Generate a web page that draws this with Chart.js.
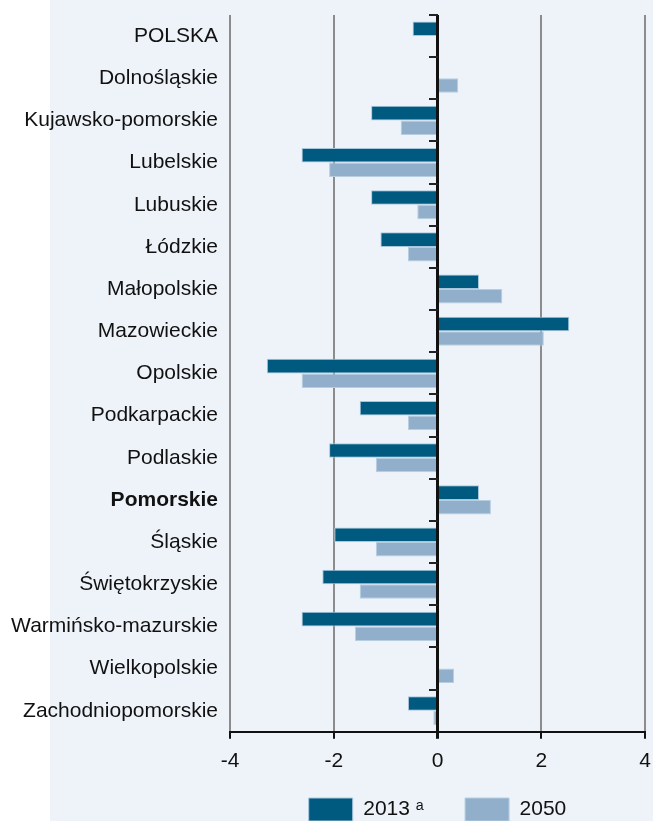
<!doctype html>
<html lang="pl">
<head>
  <meta charset="utf-8">
  <title>Województwa 2013 / 2050</title>
  <style>
    * { margin: 0; padding: 0; }
    body { background: #fff; }
    .chartBox { width: 653px; height: 821px; position: relative; }
  </style>
</head>
<body>
  <div class="chartBox">
    <canvas id="myChart"></canvas>
  </div>
  <script src="https://cdn.jsdelivr.net/npm/chart.js"></script>
  <script>
    // data
    const regions = ['POLSKA', 'Dolnośląskie', 'Kujawsko-pomorskie', 'Lubelskie', 'Lubuskie', 'Łódzkie',
      'Małopolskie', 'Mazowieckie', 'Opolskie', 'Podkarpackie', 'Podlaskie', 'Pomorskie', 'Śląskie',
      'Świętokrzyskie', 'Warmińsko-mazurskie', 'Wielkopolskie', 'Zachodniopomorskie'];
    const values2013 = [-0.48, null, -1.28, -2.62, -1.28, -1.10, 0.80, 2.54, -3.29, -1.50, -2.09, 0.80, -1.99, -2.22, -2.62, null, -0.57];
    const values2050 = [null, 0.40, -0.71, -2.09, -0.39, -0.57, 1.25, 2.05, -2.62, -0.57, -1.19, 1.03, -1.19, -1.50, -1.59, 0.32, -0.08];
    const xTicks = [-4, -2, 0, 2, 4];
    const boldRegion = 'Pomorskie';

    Chart.defaults.font.family = "'Liberation Sans', Arial, sans-serif";
    Chart.defaults.color = '#111';

    // light blue panel behind the chart
    const panel = {
      id: 'panel',
      beforeDraw(chart) {
        const c = chart.ctx;
        c.save();
        c.fillStyle = '#EEF3FA';
        c.fillRect(50, 0, chart.width - 50, chart.height);
        c.restore();
      }
    };

    const noPad = s => { s.paddingTop = 0; s.paddingBottom = 0; s.paddingLeft = 0; s.paddingRight = 0; };

    const data = {
      labels: regions,
      datasets: [{
          // trailing spaces widen the first legend item
          label: '2013 ᵃ   ',
          data: values2013,
          backgroundColor: '#005A80',
          borderColor: '#A9C6DD',
          borderWidth: 1,
          yAxisID: 'y'
        },
        {
          label: '2050',
          data: values2050,
          backgroundColor: '#91AFCA',
          borderColor: '#B7CEE1',
          borderWidth: 1,
          yAxisID: 'y'
        }
      ]
    };

    const config = {
      type: 'bar',
      data,
      plugins: [panel],
      options: {
        indexAxis: 'y',
        responsive: true,
        maintainAspectRatio: false,
        animation: false,
        layout: { padding: { top: 15, right: 8, left: 0, bottom: 0 } },
        datasets: { bar: { categoryPercentage: 0.69, barPercentage: 1.0 } },
        scales: {
          x: {
            min: -4,
            max: 4,
            afterBuildTicks: s => { s.ticks = xTicks.map(v => ({ value: v })); },
            // padding counts twice in the axis height; keep it once
            afterFit: s => { noPad(s); s.height -= 10; },
            grid: {
              color: c => c.tick && c.tick.value === 0 ? '#111' : '#8C8C8C',
              lineWidth: c => c.tick && c.tick.value === 0 ? 3 : 2,
              tickColor: '#111',
              tickLength: 7
            },
            border: { color: '#111', width: 2 },
            ticks: { font: { size: 21 }, padding: 10, color: '#111' }
          },
          y: {
            offset: true,
            afterFit: s => { noPad(s); s.width = 230; },
            grid: { display: false, drawTicks: false, offset: true },
            border: { display: false },
            ticks: {
              padding: 12,
              color: '#111',
              font: c => ({ size: 21, weight: regions[c.index] === boldRegion ? 'bold' : 'normal' })
            }
          },
          // tick marks along the zero line
          yZero: {
            axis: 'y',
            type: 'category',
            position: { x: 0 },
            offset: true,
            afterFit: noPad,
            grid: { offset: true, drawOnChartArea: false, tickLength: 9, color: '#222', lineWidth: 2 },
            border: { display: false },
            ticks: { display: false }
          }
        },
        plugins: {
          legend: {
            position: 'bottom',
            fullSize: false,
            maxHeight: 47,
            labels: {
              boxWidth: 44,
              boxHeight: 23,
              padding: 24,
              color: '#111',
              font: { size: 21 }
            }
          },
          tooltip: { enabled: false }
        }
      }
    };

    const myChart = new Chart(document.getElementById('myChart'), config);
  </script>
</body>
</html>
